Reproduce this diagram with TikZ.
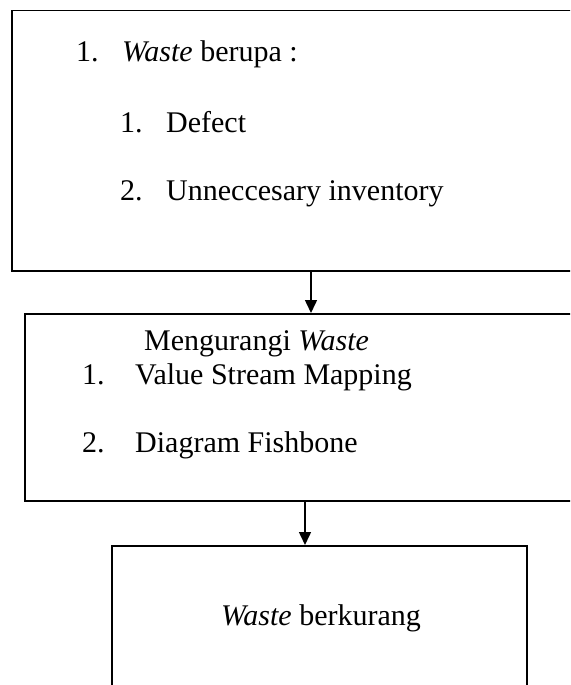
\documentclass[tikz,border=0pt]{standalone}
\usepackage{fontspec}
\setmainfont{Liberation Serif}
\usetikzlibrary{arrows.meta}
\begin{document}
\begin{tikzpicture}[x=1pt,y=-1pt,
  box/.style={draw,line width=1.5pt,rectangle,inner sep=0pt,anchor=north west},
  txt/.style={anchor=base west,inner sep=0pt,font=\fontsize{30}{35}\selectfont},
  arr/.style={line width=1.5pt,-{Triangle[length=13pt,width=12pt]}}]
\useasboundingbox (0,0) rectangle (570,685);
\clip (0,0) rectangle (570,685);
\fill[white] (0,0) rectangle (570,685);
% boxes
\node[box,minimum width=600pt,minimum height=260pt] (b1) at (11,10) {};
\node[box,minimum width=580pt,minimum height=187pt] (b2) at (24,313) {};
\node[box,minimum width=415pt,minimum height=150pt] (b3) at (111,545) {};
% arrow positions
\coordinate (ax1) at (311,0);
\coordinate (ax2) at (305,0);
\draw[arr] (b1.south -| ax1) -- (b2.north -| ax1);
\draw[arr] (b2.south -| ax2) -- (b3.north -| ax2);
% top box text
\node[txt] (n1) at (76,62) {1.};
\node[txt] (t1) at (122,62) {\textit{Waste} berupa :};
\node[txt] (n11) at (120,132) {1.};
\node[txt] (t11) at (166,132) {Defect};
\node[txt] (n12) at (120,200) {2.};
\node[txt] (t12) at (166,200) {Unneccesary inventory};
% middle box text
\node[txt] (t2) at (144,350) {Mengurangi \textit{Waste}};
\node[txt] (n21) at (82,384) {1.};
\node[txt] (t21) at (135,384) {Value Stream Mapping};
\node[txt] (n22) at (82,452) {2.};
\node[txt] (t22) at (135,452) {Diagram Fishbone};
% bottom box text
\node[txt] (t3) at (221,625) {\textit{Waste} berkurang};
\end{tikzpicture}
\end{document}
